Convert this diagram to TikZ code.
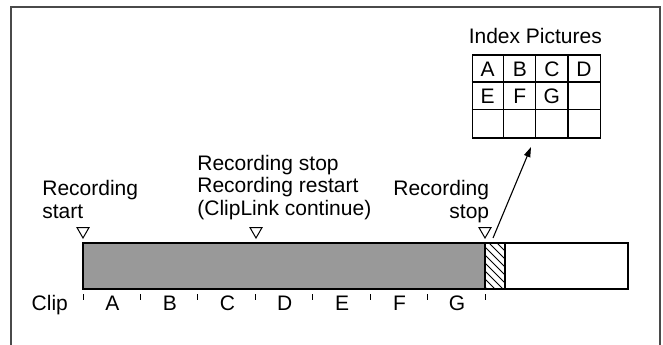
\documentclass[tikz,border=0pt]{standalone}
\usepackage{fontspec}
\setmainfont{Liberation Sans}
\usepackage{tikz}
\usetikzlibrary{arrows.meta,calc,positioning,shapes.geometric}
\definecolor{tinta}{HTML}{000000}
\definecolor{marco}{HTML}{4A4A4A}
\definecolor{grabado}{HTML}{999999}
\tikzset{
  marcoext/.style={draw=marco,line width=1pt},
  barra/.style={draw=tinta,line width=1pt},
  rayado/.style={draw=tinta,line width=0.45pt},
  tic/.style={draw=tinta,line width=0.45pt},
  marca/.style={regular polygon,regular polygon sides=3,shape border rotate=180,draw=tinta,fill=white,line width=0.5pt,inner sep=0pt,minimum size=6.9pt,anchor=corner 1},
  texto/.style={font=\fontsize{10.5pt}{11.4pt}\selectfont,inner sep=0pt,text=tinta},
  tabla/.style={draw=tinta,line width=0.6pt,minimum width=64.15pt,minimum height=41.5pt,inner sep=0pt,anchor=north west},
  rejilla/.style={draw=tinta,line width=0.6pt},
  flecha/.style={draw=tinta,line width=0.55pt,-{Triangle[length=5pt,width=3.2pt]}},
}

\begin{document}
\begin{tikzpicture}[x=0.5pt,y=-0.5pt]
\useasboundingbox (0,0) rectangle (663,344);
% marco exterior
\draw[marcoext] (11,350) -- (11,7) -- (660,7) -- (660,350);
% barra de grabacion
\coordinate (b0) at (83,243);
\coordinate (b1) at (485,289);
\coordinate (b3) at (628,289);
\fill[grabado] (b0) rectangle (b1);
\begin{scope}
\clip (485,243) rectangle (505,289);
\foreach \d in {-60,-52,...,20}
  \draw[rayado] (485+\d,243) -- ++(46,46);
\end{scope}
\draw[barra] (b0) rectangle (b3);
\draw[barra] (485,243) -- (485,289);
\draw[barra] (505,243) -- (505,289);
% marcas
\node[marca] (m1) at (83,239) {};
\node[marca] (m2) at (256,239) {};
\node[marca] (m3) at (485,239) {};
\node[texto,align=left,anchor=north west] (t1) at (42,180) {Recording\\start};
\node[texto,align=left,anchor=north west] (t2) at (197,154.5) {Recording stop\\Recording restart\\(ClipLink continue)};
\node[texto,align=right,anchor=north east] (t3) at (489.5,180) {Recording\\stop};
% clips
\foreach \i in {0,...,7}
  \draw[tic] (83+57.43*\i,294) -- (83+57.43*\i,300);
\foreach \letra [count=\i from 0] in {A,B,C,D,E,F,G}
  \node[texto,anchor=base] (c\letra) at (112.5+57.43*\i,310.7) {\letra};
\node[texto,anchor=base east] (clip) at (68.3,310.7) {Clip};
% imagenes indice
\node[texto,anchor=base] (titulo) at (535.3,43.3) {Index Pictures};
\node[tabla] (indice) at (471.7,54.3) {};
\foreach \k in {1,2,3}
  \draw[rejilla] (471.7+32.07*\k,54.3) -- (471.7+32.07*\k,137.3);
\foreach \k in {1,2}
  \draw[rejilla] (471.7,54.3+27.67*\k) -- (600,54.3+27.67*\k);
\foreach \letra [count=\i from 0] in {A,B,C,D,E,F,G}
  \node[texto,anchor=base] (i\letra) at ({487.7+32.07*mod(\i,4)},{76+27.67*div(\i,4)}) {\letra};
% flecha
\coordinate (fin) at (493,238);
\coordinate (punta) at (531,147);
\draw[flecha] (fin) -- (punta);
\end{tikzpicture}
\end{document}
